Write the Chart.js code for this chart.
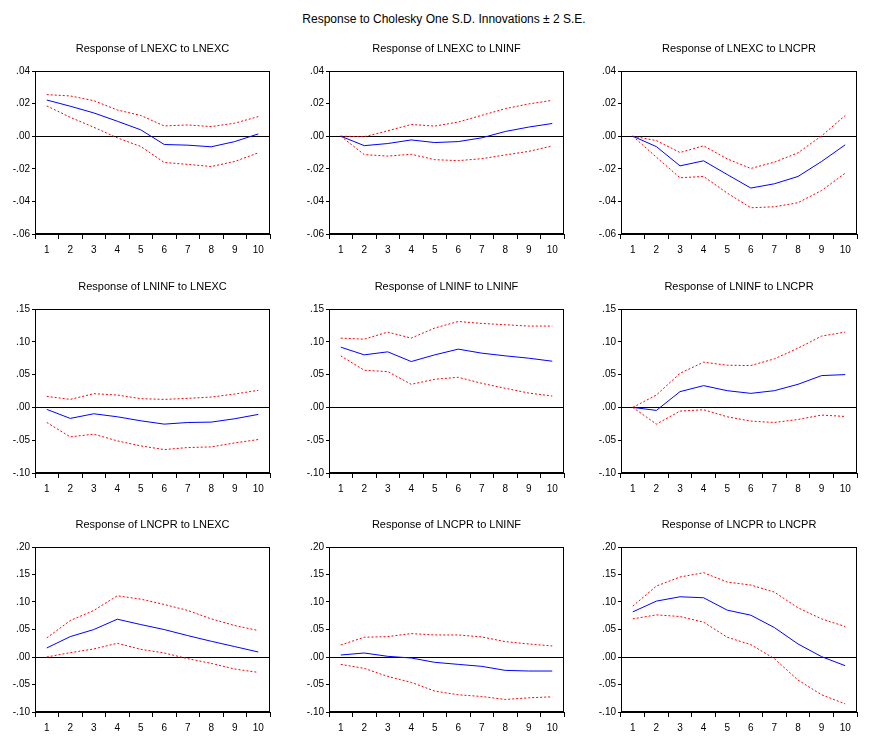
<!DOCTYPE html>
<html>
<head>
<meta charset="utf-8">
<script src="https://cdn.jsdelivr.net/npm/chart.js@4.4.1/dist/chart.umd.min.js"></script>
<style>
  body { margin: 0; background: #fff; width: 872px; height: 736px; position: relative; overflow: hidden; }
  #mainTitle { position: absolute; left: 8px; width: 872px; top: 12px; text-align: center;
    font: 12px "Liberation Sans Narrow", "Arial Narrow", "Liberation Sans", sans-serif; color: #000; }
  canvas { position: absolute; }
</style>
</head>
<body>
<div id="mainTitle">Response to Cholesky One S.D. Innovations ± 2 S.E.</div>

<script>
// periods on the x axis
const periods = ["1", "2", "3", "4", "5", "6", "7", "8", "9", "10"];

// row 1: response of LNEXC
const excExc = [0.0222, 0.0184, 0.0143, 0.0092, 0.0039, -0.0051, -0.0055, -0.0065, -0.0033, 0.0014];
const excExcHi = [0.0255, 0.0247, 0.0218, 0.0161, 0.0127, 0.0063, 0.0069, 0.0059, 0.008, 0.012];
const excExcLo = [0.0186, 0.0116, 0.0055, -0.001, -0.0063, -0.0161, -0.0173, -0.0186, -0.0155, -0.0102];

const excInf = [0, -0.0058, -0.0045, -0.0023, -0.0039, -0.0033, -0.001, 0.0029, 0.0056, 0.0078];
const excInfHi = [0, -0.0003, 0.0033, 0.0072, 0.0062, 0.0087, 0.0128, 0.0169, 0.0198, 0.022];
const excInfLo = [0, -0.0113, -0.0122, -0.0111, -0.0144, -0.015, -0.0138, -0.0115, -0.0093, -0.006];

const excCpr = [0, -0.0064, -0.0182, -0.0151, -0.0235, -0.0318, -0.0292, -0.0247, -0.0155, -0.0053];
const excCprHi = [0, -0.0027, -0.01, -0.0059, -0.0139, -0.0198, -0.0159, -0.0102, 0.0002, 0.0127];
const excCprLo = [0, -0.0129, -0.0255, -0.0247, -0.0349, -0.0439, -0.0433, -0.0408, -0.0333, -0.0227];

// row 2: response of LNINF
const infExc = [-0.003, -0.0168, -0.0097, -0.0143, -0.0204, -0.0255, -0.023, -0.0224, -0.0173, -0.0107];
const infExcHi = [0.0168, 0.0122, 0.0209, 0.0189, 0.0133, 0.0122, 0.0138, 0.0158, 0.0204, 0.026];
const infExcLo = [-0.023, -0.0449, -0.0408, -0.051, -0.0587, -0.0643, -0.0612, -0.0602, -0.0541, -0.049];

const infInf = [0.0918, 0.0801, 0.0847, 0.0699, 0.0801, 0.0888, 0.0827, 0.0786, 0.075, 0.0704];
const infInfHi = [0.1056, 0.104, 0.1148, 0.1056, 0.121, 0.131, 0.128, 0.126, 0.124, 0.124];
const infInfLo = [0.0786, 0.0566, 0.0546, 0.0352, 0.0429, 0.0459, 0.0367, 0.0291, 0.0219, 0.0173];

const infCpr = [0, -0.0046, 0.024, 0.0332, 0.0255, 0.0214, 0.0255, 0.0352, 0.0485, 0.05];
const infCprHi = [0, 0.0189, 0.052, 0.0689, 0.0643, 0.0638, 0.074, 0.0903, 0.1087, 0.1148];
const infCprLo = [0, -0.0255, -0.0056, -0.0036, -0.0143, -0.0209, -0.023, -0.0184, -0.0117, -0.0138];

// row 3: response of LNCPR
const cprExc = [0.0164, 0.0371, 0.0499, 0.0687, 0.059, 0.0499, 0.0389, 0.0286, 0.0189, 0.0091];
const cprExcHi = [0.0347, 0.0663, 0.0846, 0.1113, 0.1052, 0.0955, 0.0846, 0.0693, 0.0572, 0.0481];
const cprExcLo = [0, 0.0079, 0.0146, 0.0249, 0.014, 0.0073, -0.003, -0.0116, -0.0219, -0.028];

const cprInf = [0.0036, 0.0073, 0.0012, -0.0018, -0.0097, -0.0134, -0.017, -0.0243, -0.0255, -0.0255];
const cprInfHi = [0.0219, 0.0359, 0.0371, 0.0426, 0.0401, 0.0401, 0.0365, 0.028, 0.0237, 0.02];
const cprInfLo = [-0.0134, -0.0207, -0.0353, -0.0462, -0.062, -0.0687, -0.0718, -0.0772, -0.0742, -0.0724];

const cprCpr = [0.0821, 0.1016, 0.1095, 0.1077, 0.0852, 0.076, 0.0535, 0.0237, 0.0006, -0.0158];
const cprCprHi = [0.0925, 0.129, 0.1454, 0.1533, 0.1363, 0.1308, 0.118, 0.0894, 0.0693, 0.0554];
const cprCprLo = [0.0693, 0.0766, 0.0736, 0.0633, 0.0359, 0.0225, -0.003, -0.042, -0.0687, -0.0852];

// y ranges per row: [min, max, step]
const rowRanges = [[-0.06, 0.04, 0.02], [-0.10, 0.15, 0.05], [-0.10, 0.20, 0.05]];

const panels = [
  { title: "Response of LNEXC to LNEXC", row: 0, col: 0, mid: excExc, hi: excExcHi, lo: excExcLo },
  { title: "Response of LNEXC to LNINF", row: 0, col: 1, mid: excInf, hi: excInfHi, lo: excInfLo },
  { title: "Response of LNEXC to LNCPR", row: 0, col: 2, mid: excCpr, hi: excCprHi, lo: excCprLo },
  { title: "Response of LNINF to LNEXC", row: 1, col: 0, mid: infExc, hi: infExcHi, lo: infExcLo },
  { title: "Response of LNINF to LNINF", row: 1, col: 1, mid: infInf, hi: infInfHi, lo: infInfLo },
  { title: "Response of LNINF to LNCPR", row: 1, col: 2, mid: infCpr, hi: infCprHi, lo: infCprLo },
  { title: "Response of LNCPR to LNEXC", row: 2, col: 0, mid: cprExc, hi: cprExcHi, lo: cprExcLo },
  { title: "Response of LNCPR to LNINF", row: 2, col: 1, mid: cprInf, hi: cprInfHi, lo: cprInfLo },
  { title: "Response of LNCPR to LNCPR", row: 2, col: 2, mid: cprCpr, hi: cprCprHi, lo: cprCprLo },
];

// plot area boxes (left / width per column, top / height per row)
const colLeft = [35, 329, 621];
const colWidth = [235, 235, 236];
const rowTop = [71, 309, 547];
const rowHeight = [163, 164, 165];

const Y_AXIS_W = 35;
const X_AXIS_H = 24;
const TITLE_H = 30;
const RIGHT_PAD = 3;

const FONT = "'Liberation Sans Narrow', 'Arial Narrow', 'Liberation Sans', sans-serif";

// full frame round the plot area
const framePlugin = {
  id: "frame",
  afterDraw(chart) {
    const { ctx, chartArea: a } = chart;
    ctx.save();
    ctx.strokeStyle = "#000";
    ctx.lineWidth = 1;
    ctx.strokeRect(Math.round(a.left) + 0.5, Math.round(a.top) + 0.5,
      Math.round(a.right - a.left) - 1, Math.round(a.bottom - a.top) - 1);
    ctx.restore();
  },
};

const fmt = (v) => Number(v).toFixed(2).replace(/^(-?)0\./, "$1.");

panels.forEach((p) => {
  const canvas = document.createElement("canvas");
  const w = Y_AXIS_W + colWidth[p.col] + RIGHT_PAD;
  const h = TITLE_H + rowHeight[p.row] + X_AXIS_H;
  canvas.width = w;
  canvas.height = h;
  canvas.style.width = `${w}px`;
  canvas.style.height = `${h}px`;
  canvas.style.left = `${colLeft[p.col] - Y_AXIS_W}px`;
  canvas.style.top = `${rowTop[p.row] - TITLE_H}px`;
  document.body.appendChild(canvas);

  const [yMin, yMax, yStep] = rowRanges[p.row];

  new Chart(canvas, {
    type: "line",
    data: {
      labels: periods,
      datasets: [
        { data: p.mid, borderColor: "#0000ff", borderWidth: 1 },
        { data: p.hi, borderColor: "#ff0000", borderWidth: 1, borderDash: [2, 2] },
        { data: p.lo, borderColor: "#ff0000", borderWidth: 1, borderDash: [2, 2] },
      ],
    },
    options: {
      responsive: false,
      animation: false,
      layout: { padding: { left: 0, right: RIGHT_PAD, top: 0, bottom: 0 } },
      elements: { point: { radius: 0 }, line: { tension: 0 } },
      plugins: {
        legend: { display: false },
        tooltip: { enabled: false },
        title: {
          display: true,
          fullSize: false, // centre over the plot area, not the canvas
          text: p.title,
          color: "#000",
          font: { family: FONT, size: 11, weight: "normal", lineHeight: 1.25 },
          padding: { top: 1, bottom: TITLE_H - 1 - 13.75 },
        },
      },
      scales: {
        x: {
          type: "category",
          offset: true,
          grid: { offset: true, drawOnChartArea: false, tickLength: 5, tickColor: "#000" },
          border: { display: true, color: "#000" },
          ticks: { color: "#000", padding: 5, maxRotation: 0, autoSkip: false, font: { family: FONT, size: 10 } },
          afterFit(scale) { scale.height = X_AXIS_H; },
        },
        y: {
          min: yMin,
          max: yMax,
          ticks: { stepSize: yStep, color: "#000", padding: 2, font: { family: FONT, size: 10 }, callback: fmt },
          grid: {
            color: (c) => (c.tick && Math.abs(c.tick.value) < 1e-9 ? "#000" : "rgba(0,0,0,0)"),
            tickColor: "#000",
            tickLength: 3,
          },
          border: { display: true, color: "#000" },
          afterFit(scale) { scale.width = Y_AXIS_W; },
        },
      },
    },
    plugins: [framePlugin],
  });
});
</script>
</body>
</html>
